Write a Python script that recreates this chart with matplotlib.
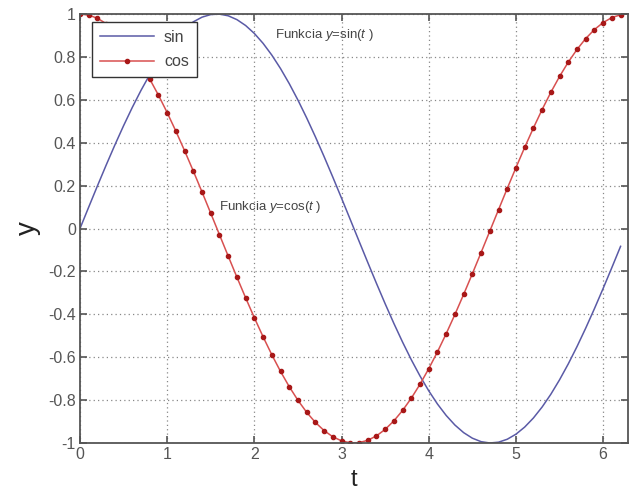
import numpy as np
import matplotlib
matplotlib.use("Agg")
import matplotlib.pyplot as plt

plt.rcParams['font.family'] = ['Liberation Sans', 'DejaVu Sans']
plt.rcParams['mathtext.fontset'] = 'custom'
plt.rcParams['mathtext.it'] = 'Liberation Sans:italic'
plt.rcParams['mathtext.rm'] = 'Liberation Sans'

# sample points t = 0, 0.1, ..., 6.2
t = [round(0.1 * k, 1) for k in range(63)]

sin_vals = [
    0.0000, 0.0998, 0.1987, 0.2955, 0.3894, 0.4794, 0.5646, 0.6442, 0.7174, 0.7833,
    0.8415, 0.8912, 0.9320, 0.9636, 0.9854, 0.9975, 0.9996, 0.9917, 0.9738, 0.9463,
    0.9093, 0.8632, 0.8085, 0.7457, 0.6755, 0.5985, 0.5155, 0.4274, 0.3350, 0.2392,
    0.1411, 0.0416, -0.0584, -0.1577, -0.2555, -0.3508, -0.4425, -0.5298, -0.6119, -0.6878,
    -0.7568, -0.8183, -0.8716, -0.9162, -0.9516, -0.9775, -0.9937, -0.9999, -0.9962, -0.9825,
    -0.9589, -0.9258, -0.8835, -0.8323, -0.7728, -0.7055, -0.6313, -0.5507, -0.4646, -0.3739,
    -0.2794, -0.1822, -0.0831,
]

cos_vals = [
    1.0000, 0.9950, 0.9801, 0.9553, 0.9211, 0.8776, 0.8253, 0.7648, 0.6967, 0.6216,
    0.5403, 0.4536, 0.3624, 0.2675, 0.1700, 0.0707, -0.0292, -0.1288, -0.2272, -0.3233,
    -0.4161, -0.5048, -0.5885, -0.6663, -0.7374, -0.8011, -0.8569, -0.9041, -0.9422, -0.9710,
    -0.9900, -0.9991, -0.9983, -0.9875, -0.9668, -0.9365, -0.8968, -0.8481, -0.7910, -0.7259,
    -0.6536, -0.5748, -0.4903, -0.4008, -0.3073, -0.2108, -0.1122, -0.0124, 0.0875, 0.1865,
    0.2837, 0.3780, 0.4685, 0.5544, 0.6347, 0.7087, 0.7756, 0.8347, 0.8855, 0.9275,
    0.9602, 0.9833, 0.9965,
]

x_ticks = [0, 1, 2, 3, 4, 5, 6]
y_ticks = [-1, -0.8, -0.6, -0.4, -0.2, 0, 0.2, 0.4, 0.6, 0.8, 1]
y_tick_labels = ['-1', '-0.8', '-0.6', '-0.4', '-0.2', '0', '0.2', '0.4', '0.6', '0.8', '1']

fig = plt.figure(figsize=(6.43, 4.90), dpi=100)
ax = fig.add_axes([0.1244, 0.0959, 0.852, 0.8755])

ax.plot(t, sin_vals, color='#5a5aa6', lw=1.1, label='sin')
ax.plot(t, cos_vals, color='#d85050', lw=1.1, marker='o', ms=3.0,
        markerfacecolor='#a81818', markeredgecolor='#a81818', label='cos')

ax.set_xlim(0, 2 * np.pi)
ax.set_ylim(-1, 1)
ax.set_xticks(x_ticks)
ax.set_yticks(y_ticks)
ax.set_yticklabels(y_tick_labels)

ax.grid(True, linestyle=(0, (1, 2.5)), color='#888888', lw=0.9)
ax.tick_params(direction='in', top=True, right=True, length=5, width=1.2,
               colors='#555555', labelcolor='#555555', labelsize=11.5, pad=3)
for s in ax.spines.values():
    s.set_color('#555555')
    s.set_linewidth(1.3)

ax.set_xlabel('t', fontsize=17, color='#222222', labelpad=5)
ax.set_ylabel('y', fontsize=20, color='#222222', labelpad=5, rotation=90)

ax.text(2.24, 0.90, r'Funkcia $y$=sin($t$ )', fontsize=9.5, color='#444444', va='center')
ax.text(1.6, 0.10, r'Funkcia $y$=cos($t$ )', fontsize=9.5, color='#444444', va='center')

leg = ax.legend(loc='upper left', bbox_to_anchor=(0.022, 0.982), fancybox=False,
                framealpha=1, edgecolor='#333333', fontsize=11.5, handlelength=3.4,
                borderpad=0.5, labelspacing=0.6, handletextpad=0.6, borderaxespad=0)
leg.get_frame().set_linewidth(1.0)
for txt in leg.get_texts():
    txt.set_color('#444444')

fig.savefig('out.png', dpi=100, facecolor='white')
